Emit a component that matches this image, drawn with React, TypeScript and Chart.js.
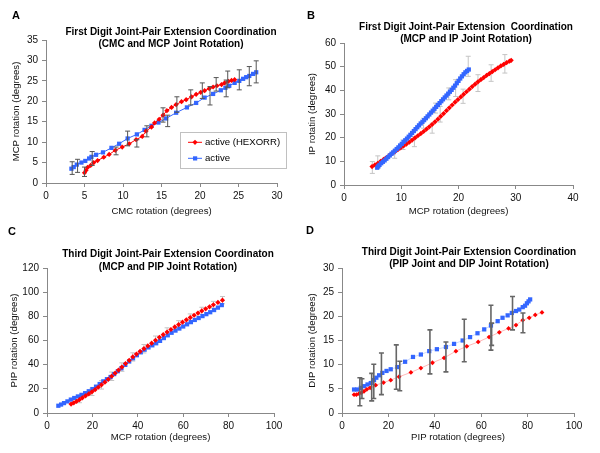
import React, { useEffect, useRef } from 'react';
import { Chart, registerables } from 'chart.js';
Chart.register(...registerables);

const FONT = "'Liberation Sans', Arial, Helvetica, sans-serif";
const RED = '#FF0000';
const BLUE = '#3366FF';

// ---------- Panel A: CMC vs MCP (first digit) ----------
const aRedX = [5.0, 5.2, 5.4, 5.8, 6.2, 6.7, 7.5, 8.2, 9.0, 9.9, 10.8, 11.7, 12.5, 13.0, 13.7, 14.1, 14.7, 15.2, 15.7, 16.3, 16.9, 17.6, 18.2, 18.9, 19.5, 20.1, 20.6, 21.2, 21.7, 22.2, 22.8, 23.2, 23.7, 24.1, 24.5];
const aRedY = [2.5, 3.1, 3.8, 4.3, 5.0, 5.5, 6.3, 7.0, 8.0, 8.8, 9.6, 10.6, 11.4, 12.7, 13.7, 14.7, 15.6, 16.6, 17.7, 18.5, 19.2, 19.9, 20.4, 21.1, 21.7, 22.2, 22.6, 23.1, 23.5, 23.8, 24.1, 24.5, 24.9, 25.1, 25.3];
const aBlueX = [3.3, 3.6, 4.0, 4.6, 5.1, 5.6, 5.9, 6.5, 7.4, 8.5, 9.5, 10.6, 11.8, 12.8, 13.7, 14.6, 15.6, 16.9, 18.3, 19.5, 20.6, 21.7, 22.7, 23.3, 23.8, 24.5, 25.1, 25.6, 26.0, 26.4, 26.9, 27.3];
const aBlueY = [3.5, 3.9, 4.5, 5.0, 5.4, 6.0, 6.4, 6.9, 7.5, 8.6, 9.6, 10.9, 11.9, 13.0, 14.0, 14.8, 15.8, 17.2, 18.5, 19.6, 20.9, 21.8, 22.7, 23.3, 23.8, 24.5, 25.0, 25.5, 25.9, 26.2, 26.7, 27.1];
const aErrX = [3.4, 4.1, 5.0, 6.0, 9.1, 10.6, 11.8, 13.1, 15.2, 15.8, 17.0, 18.8, 20.3, 21.3, 22.1, 23.4, 23.6, 25.1, 26.4, 27.3];
const aErrLo = [2.1, 2.6, 1.6, 4.3, 6.9, 9.1, 8.8, 11.3, 14.9, 13.8, 17.3, 19.1, 20.7, 19.1, 22.5, 21.1, 23.3, 22.8, 23.8, 24.5];
const aErrHi = [5.2, 5.8, 3.9, 7.7, 8.8, 12.7, 10.6, 14.0, 18.4, 16.6, 21.1, 22.8, 24.5, 23.6, 25.8, 25.2, 27.4, 27.7, 28.5, 29.9];

// ---------- Panel B: MCP vs IP (first digit) ----------
const bRedX = [4.9, 5.4, 5.9, 6.4, 6.9, 7.4, 7.9, 8.4, 8.9, 9.4, 9.9, 10.4, 10.9, 11.4, 11.9, 12.4, 12.9, 13.4, 13.9, 14.4, 14.9, 15.4, 15.9, 16.4, 16.9, 17.4, 17.9, 18.4, 18.9, 19.4, 19.9, 20.4, 20.9, 21.4, 21.9, 22.4, 22.9, 23.4, 23.9, 24.4, 24.9, 25.4, 25.9, 26.4, 26.9, 27.4, 27.9, 28.4, 28.9, 29.2];
const bRedY = [7.8, 8.5, 9.2, 10.0, 10.8, 11.6, 12.5, 13.3, 14.1, 14.9, 15.7, 16.5, 17.3, 18.1, 19.0, 19.9, 20.8, 21.7, 22.6, 23.6, 24.6, 25.6, 26.7, 27.8, 29.0, 30.2, 31.4, 32.6, 33.8, 35.0, 36.1, 37.2, 38.3, 39.4, 40.5, 41.6, 42.6, 43.6, 44.5, 45.4, 46.3, 47.1, 47.9, 48.7, 49.5, 50.3, 51.0, 51.7, 52.3, 52.7];
const bBlueX = [5.8, 6.0, 6.2, 6.5, 6.8, 7.1, 7.4, 7.7, 8.0, 8.3, 8.6, 8.9, 9.2, 9.5, 9.8, 10.1, 10.4, 10.7, 11.0, 11.3, 11.6, 11.9, 12.2, 12.5, 12.8, 13.1, 13.4, 13.7, 14.0, 14.3, 14.6, 14.9, 15.2, 15.5, 15.8, 16.1, 16.4, 16.7, 17.0, 17.3, 17.6, 17.9, 18.2, 18.5, 18.8, 19.1, 19.4, 19.7, 20.0, 20.3, 20.6, 20.9, 21.2, 21.5, 21.8];
const bBlueY = [7.3, 7.9, 8.5, 9.2, 9.8, 10.4, 11.1, 11.8, 12.5, 13.2, 13.8, 14.5, 15.2, 15.9, 16.7, 17.4, 18.2, 18.9, 19.6, 20.4, 21.2, 22.0, 22.8, 23.6, 24.4, 25.2, 26.0, 26.7, 27.4, 28.2, 29.0, 29.8, 30.6, 31.4, 32.2, 33.0, 33.8, 34.6, 35.4, 36.2, 37.0, 37.8, 38.6, 39.4, 40.2, 41.1, 42.0, 43.0, 44.0, 45.0, 45.9, 46.8, 47.6, 48.2, 48.8];
const bErrX = [4.95, 5.9, 8.85, 10.3, 12.3, 13.9, 15.4, 16.0, 16.8, 18.3, 19.5, 20.8, 21.7, 23.4, 25.7, 28.1];
const bErrLo = [4.9, 7.1, 11.3, 15.0, 16.2, 24.0, 21.9, 30.4, 26.6, 36.0, 37.4, 34.5, 45.9, 39.5, 43.8, 47.3];
const bErrHi = [9.9, 12.3, 14.8, 19.0, 20.5, 28.2, 26.1, 34.6, 33.2, 41.0, 44.5, 40.5, 54.4, 46.6, 50.8, 55.1];

// ---------- Panel C: MCP vs PIP (third digit) ----------
const cRedX = [10.6, 11.8, 13.0, 14.3, 15.6, 17.0, 18.4, 19.8, 21.2, 22.6, 24.0, 25.5, 27.0, 28.5, 30.0, 31.5, 33.0, 34.6, 36.2, 37.8, 39.4, 41.0, 42.7, 44.4, 46.1, 47.8, 49.5, 51.2, 52.9, 54.6, 56.3, 58.0, 59.7, 61.4, 63.1, 64.8, 66.5, 68.2, 69.9, 71.6, 73.3, 75.3, 77.3];
const cRedY = [7.4, 8.4, 9.6, 11.0, 12.6, 14.2, 15.8, 17.5, 19.3, 21.3, 23.3, 25.5, 27.9, 30.4, 33.0, 35.5, 38.0, 40.9, 43.6, 46.4, 48.8, 51.0, 53.2, 55.5, 57.8, 60.2, 62.6, 64.8, 67.0, 69.1, 71.2, 73.2, 75.2, 77.1, 79.0, 80.9, 82.7, 84.5, 86.2, 87.9, 89.6, 91.5, 93.4];
const cBlueX = [5.0, 6.2, 7.5, 9.0, 10.5, 12.0, 13.6, 15.2, 16.8, 18.4, 20.0, 21.6, 23.2, 24.8, 26.4, 28.0, 29.6, 31.2, 32.8, 34.5, 36.2, 37.9, 39.6, 41.3, 43.0, 44.7, 46.4, 48.1, 49.8, 51.5, 53.2, 54.9, 56.6, 58.3, 60.0, 61.7, 63.4, 65.1, 66.8, 68.5, 70.2, 71.9, 73.6, 75.3, 77.0];
const cBlueY = [6.0, 7.0, 8.2, 9.6, 11.1, 12.4, 13.7, 15.0, 16.4, 18.0, 19.8, 21.8, 24.0, 26.2, 28.0, 29.8, 32.2, 34.6, 37.0, 39.8, 42.6, 45.3, 47.8, 50.2, 52.4, 54.3, 56.0, 57.7, 59.7, 62.0, 64.3, 66.4, 68.2, 69.9, 71.6, 73.4, 75.2, 77.0, 78.6, 80.2, 81.8, 83.4, 85.2, 87.2, 89.3];
const cErrX = [14.3, 19.8, 24.0, 28.5, 33.0, 37.8, 42.7, 47.8, 52.9, 58.0, 63.1, 68.2, 73.3, 77.3];
const cErrLo = [8.5, 14.5, 19.8, 26.9, 34.5, 43.0, 49.7, 56.7, 63.5, 70.0, 76.0, 81.5, 86.8, 90.4];
const cErrHi = [13.5, 20.5, 26.8, 33.9, 41.5, 49.8, 56.7, 63.7, 70.5, 76.4, 82.0, 87.5, 92.4, 96.4];

// ---------- Panel D: PIP vs DIP (third digit) ----------
const dRedX = [5.2, 6.2, 7.3, 8.4, 9.5, 10.7, 12.1, 14.5, 17.9, 21.0, 24.6, 29.7, 34.0, 39.0, 44.0, 49.1, 53.8, 58.7, 63.4, 67.8, 71.8, 75.0, 77.9, 80.7, 83.3, 86.2];
const dRedY = [3.8, 3.8, 4.0, 4.2, 4.5, 4.9, 5.2, 5.75, 6.3, 6.8, 7.5, 8.4, 9.3, 10.4, 11.4, 12.8, 13.8, 14.7, 15.7, 16.7, 17.5, 18.2, 19.2, 19.7, 20.3, 20.8];
const dBlueX = [5.2, 6.6, 8.1, 9.5, 11.0, 12.4, 13.8, 14.8, 16.0, 17.4, 19.2, 21.0, 23.9, 27.2, 30.6, 34.0, 37.6, 40.9, 44.8, 48.3, 52.0, 55.2, 58.4, 61.3, 64.2, 67.1, 69.2, 71.4, 73.2, 75.0, 76.4, 77.9, 78.9, 79.7, 80.4, 81.1];
const dBlueY = [4.86, 4.86, 5.2, 5.55, 5.9, 6.2, 6.8, 7.3, 7.8, 8.3, 8.7, 9.05, 9.5, 10.6, 11.6, 12.1, 12.8, 13.2, 13.65, 14.3, 15.0, 15.7, 16.5, 17.3, 18.1, 19.0, 19.7, 20.2, 20.7, 21.1, 21.4, 21.9, 22.2, 22.7, 23.1, 23.5];
const dErrX = [7.7, 8.6, 12.8, 13.7, 17.0, 23.4, 24.9, 37.9, 44.8, 52.7, 64.2, 64.5, 73.5, 78.0];
const dErrLo = [1.5, 3.0, 2.5, 3.0, 3.8, 4.9, 4.6, 8.1, 8.5, 10.6, 13.0, 14.0, 17.2, 16.6];
const dErrHi = [7.3, 7.1, 8.2, 10.1, 12.4, 14.1, 10.7, 17.2, 14.7, 19.4, 22.3, 18.6, 24.1, 20.7];

const legendLabels = ['active (HEXORR)', 'active'];

type Series = { xs: number[]; ys: number[]; color: string; line: string; style: string; radius: number; showLine: boolean; order: number };
type Panel = {
  left: number; top: number; w: number; h: number;
  letter: string; letterX: number; letterY: number;
  title: string[]; titleX: number; titleY: number[];
  xTitle: string; yTitle: string;
  xMax: number; xStep: number; yMax: number; yStep: number;
  padTop: number; padRight: number; yW: number; xH: number; xTitlePad: number; yTitlePad: number;
  series: Series[];
  err: { xs: number[]; lo: number[]; hi: number[]; color: string; width: number; cap: number; onTop: boolean };
  legend: boolean;
};

const panels: Panel[] = [
  {
    left: 0, top: 0, w: 300, h: 226, letter: 'A', letterX: 12, letterY: 16,
    title: ['First Digit Joint-Pair Extension Coordination', '(CMC and MCP Joint Rotation)'], titleX: 171, titleY: [32, 44],
    xTitle: 'CMC rotation (degrees)', yTitle: 'MCP rotation (degrees)',
    xMax: 30, xStep: 5, yMax: 35, yStep: 5,
    padTop: 40, padRight: 23, yW: 46, xH: 43, xTitlePad: 8.5, yTitlePad: 10.5,
    series: [
      { xs: aRedX, ys: aRedY, color: RED, line: RED, style: 'rectRot', radius: 2.6, showLine: true, order: 1 },
      { xs: aBlueX, ys: aBlueY, color: BLUE, line: BLUE, style: 'rect', radius: 3.0, showLine: true, order: 2 },
    ],
    err: { xs: aErrX, lo: aErrLo, hi: aErrHi, color: '#555555', width: 1, cap: 2.5, onTop: true },
    legend: true,
  },
  {
    left: 300, top: 0, w: 300, h: 226, letter: 'B', letterX: 7, letterY: 16,
    title: ['First Digit Joint-Pair Extension  Coordination', '(MCP and IP Joint Rotation)'], titleX: 166, titleY: [27, 39.5],
    xTitle: 'MCP rotation (degrees)', yTitle: 'IP rotatin (degrees)',
    xMax: 40, xStep: 10, yMax: 60, yStep: 10,
    padTop: 43, padRight: 27, yW: 44, xH: 41, xTitlePad: 8.5, yTitlePad: 7,
    series: [
      { xs: bRedX, ys: bRedY, color: RED, line: RED, style: 'rectRot', radius: 2.6, showLine: false, order: 2 },
      { xs: bBlueX, ys: bBlueY, color: BLUE, line: BLUE, style: 'rect', radius: 3.0, showLine: false, order: 1 },
    ],
    err: { xs: bErrX, lo: bErrLo, hi: bErrHi, color: '#c4c4c4', width: 1, cap: 2.5, onTop: false },
    legend: false,
  },
  {
    left: 0, top: 226, w: 300, h: 227, letter: 'C', letterX: 8, letterY: 6,
    title: ['Third Digit Joint-Pair Extension Coordinaton', '(MCP and PIP Joint Rotation)'], titleX: 168, titleY: [28.5, 41],
    xTitle: 'MCP rotation (degrees)', yTitle: 'PIP rotation (degrees)',
    xMax: 100, xStep: 20, yMax: 120, yStep: 20,
    padTop: 42, padRight: 26, yW: 47, xH: 40, xTitlePad: 9.5, yTitlePad: 9,
    series: [
      { xs: cRedX, ys: cRedY, color: RED, line: RED, style: 'rectRot', radius: 2.6, showLine: false, order: 1 },
      { xs: cBlueX, ys: cBlueY, color: BLUE, line: BLUE, style: 'rect', radius: 3.0, showLine: false, order: 2 },
    ],
    err: { xs: cErrX, lo: cErrLo, hi: cErrHi, color: '#c4c4c4', width: 1, cap: 2.5, onTop: false },
    legend: false,
  },
  {
    left: 300, top: 226, w: 300, h: 227, letter: 'D', letterX: 6, letterY: 5,
    title: ['Third Digit Joint-Pair Extension Coordination', '(PIP Joint and DIP Joint Rotation)'], titleX: 169, titleY: [26, 38.5],
    xTitle: 'PIP rotation (degrees)', yTitle: 'DIP rotation (degrees)',
    xMax: 100, xStep: 20, yMax: 30, yStep: 5,
    padTop: 42, padRight: 26, yW: 42, xH: 40, xTitlePad: 9.5, yTitlePad: 7,
    series: [
      { xs: dRedX, ys: dRedY, color: RED, line: 'rgba(255,80,80,0.4)', style: 'rectRot', radius: 2.4, showLine: true, order: 1 },
      { xs: dBlueX, ys: dBlueY, color: BLUE, line: 'rgba(51,102,255,0.25)', style: 'rect', radius: 3.0, showLine: true, order: 2 },
    ],
    err: { xs: dErrX, lo: dErrLo, hi: dErrHi, color: '#666666', width: 1.6, cap: 2.5, onTop: true },
    legend: false,
  },
];

function drawErr(chart: any, p: Panel) {
  const { ctx, scales } = chart;
  const e = p.err;
  ctx.save();
  ctx.strokeStyle = e.color;
  ctx.lineWidth = e.width;
  for (let i = 0; i < e.xs.length; i++) {
    const px = scales.x.getPixelForValue(e.xs[i]);
    const y1 = scales.y.getPixelForValue(e.lo[i]);
    const y2 = scales.y.getPixelForValue(e.hi[i]);
    ctx.beginPath();
    ctx.moveTo(px, y1); ctx.lineTo(px, y2);
    ctx.moveTo(px - e.cap, y1); ctx.lineTo(px + e.cap, y1);
    ctx.moveTo(px - e.cap, y2); ctx.lineTo(px + e.cap, y2);
    ctx.stroke();
  }
  ctx.restore();
}

function PanelChart({ p }: { p: Panel }) {
  const ref = useRef<HTMLCanvasElement>(null);
  useEffect(() => {
    if (!ref.current) return;
    const tickFont = { family: FONT, size: 10 };
    const titleFont = { family: FONT, size: 9.6 };
    const decor = {
      id: 'decor',
      beforeDatasetsDraw(chart: any) { if (!p.err.onTop) drawErr(chart, p); },
      afterDatasetsDraw(chart: any) { if (p.err.onTop) drawErr(chart, p); },
      afterDraw(chart: any) {
        const ctx = chart.ctx;
        ctx.save();
        ctx.fillStyle = '#000';
        ctx.textBaseline = 'middle';
        ctx.textAlign = 'left';
        ctx.font = `bold 11px ${FONT}`;
        ctx.fillText(p.letter, p.letterX, p.letterY);
        ctx.textAlign = 'center';
        ctx.font = `bold 10px ${FONT}`;
        p.title.forEach((t, i) => ctx.fillText(t, p.titleX, p.titleY[i]));
        if (p.legend) {
          const bx = 180, by = 132, bw = 106, bh = 36;
          ctx.fillStyle = '#fff';
          ctx.fillRect(bx, by, bw, bh);
          ctx.strokeStyle = '#c0c0c0';
          ctx.lineWidth = 1;
          ctx.strokeRect(bx + 0.5, by + 0.5, bw, bh);
          const rows = [
            { y: 142.3, s: p.series[0] },
            { y: 158.3, s: p.series[1] },
          ];
          rows.forEach((r, i) => {
            ctx.strokeStyle = r.s.line;
            ctx.beginPath();
            ctx.moveTo(188, r.y); ctx.lineTo(202, r.y);
            ctx.stroke();
            ctx.fillStyle = r.s.color;
            if (r.s.style === 'rectRot') {
              ctx.beginPath();
              ctx.moveTo(195, r.y - 2.6); ctx.lineTo(197.6, r.y); ctx.lineTo(195, r.y + 2.6); ctx.lineTo(192.4, r.y);
              ctx.closePath(); ctx.fill();
            } else {
              ctx.fillRect(193, r.y - 2, 4.2, 4.2);
            }
            ctx.fillStyle = '#000';
            ctx.textAlign = 'left';
            ctx.font = `9.6px ${FONT}`;
            ctx.fillText(legendLabels[i], 205, r.y);
          });
        }
        ctx.restore();
      },
    };
    const chart = new Chart(ref.current, {
      type: 'scatter',
      data: {
        datasets: p.series.map((s) => ({
          data: s.xs.map((x, i) => ({ x, y: s.ys[i] })),
          showLine: s.showLine,
          borderColor: s.line,
          borderWidth: 1,
          pointStyle: s.style as any,
          pointRadius: s.radius,
          pointBackgroundColor: s.color,
          pointBorderColor: s.color,
          pointBorderWidth: 0,
          order: s.order,
        })),
      },
      options: {
        animation: false,
        responsive: false,
        maintainAspectRatio: false,
        events: [],
        layout: { padding: { left: 0, top: p.padTop, right: p.padRight, bottom: 0 } },
        plugins: { legend: { display: false }, tooltip: { enabled: false }, title: { display: false } },
        scales: {
          x: {
            type: 'linear', min: 0, max: p.xMax,
            ticks: { stepSize: p.xStep, font: tickFont, color: '#111', padding: 3, maxRotation: 0 },
            grid: { display: true, drawOnChartArea: false, drawTicks: true, tickLength: 4, color: '#888' },
            border: { display: true, color: '#888' },
            title: { display: true, text: p.xTitle, font: titleFont, color: '#111', padding: { top: 0, bottom: p.xTitlePad } },
            afterFit: (s: any) => { s.height = p.xH; },
          },
          y: {
            type: 'linear', min: 0, max: p.yMax,
            ticks: { stepSize: p.yStep, font: tickFont, color: '#111', padding: 4 },
            grid: { display: true, drawOnChartArea: false, drawTicks: true, tickLength: 4, color: '#888' },
            border: { display: true, color: '#888' },
            title: { display: true, text: p.yTitle, font: titleFont, color: '#111', padding: { top: p.yTitlePad, bottom: 0 } },
            afterFit: (s: any) => { s.width = p.yW; },
          },
        },
      } as any,
      plugins: [decor],
    });
    return () => chart.destroy();
  }, [p]);
  return (
    <canvas
      ref={ref}
      width={p.w}
      height={p.h}
      style={{ position: 'absolute', left: p.left, top: p.top, width: p.w, height: p.h }}
    />
  );
}

export default function App() {
  return (
    <div style={{ position: 'fixed', left: 0, top: 0, width: 600, height: 453, background: '#fff', overflow: 'hidden' }}>
      {panels.map((p) => (
        <PanelChart key={p.letter} p={p} />
      ))}
    </div>
  );
}
